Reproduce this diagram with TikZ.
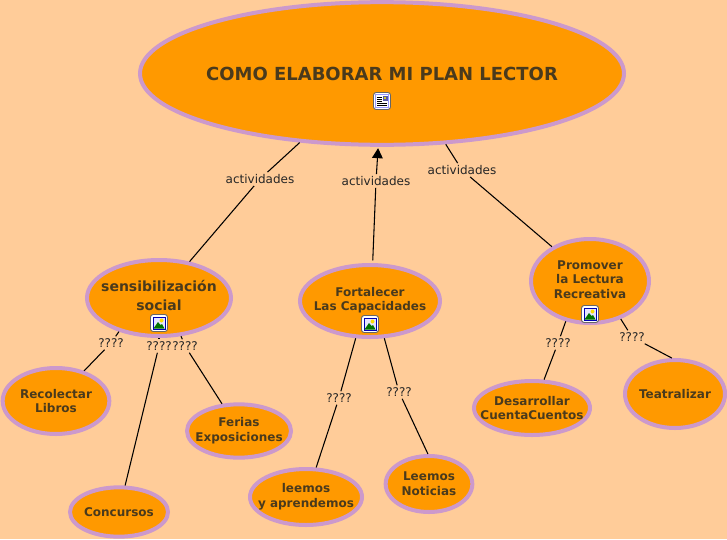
\documentclass[tikz,border=0pt]{standalone}
\usepackage{fontspec}
\setmainfont{DejaVu Sans}
\usetikzlibrary{shapes.geometric,arrows.meta}
\definecolor{fondo}{HTML}{FFCC99}
\definecolor{naranja}{HTML}{FF9900}
\definecolor{lila}{HTML}{CC99CC}
\definecolor{texto}{HTML}{4A3A1C}
\tikzset{
    concepto/.style={ellipse, draw=lila, line width=3pt, fill=naranja, inner sep=-30pt,
        text=texto, align=center, font=\bfseries\fontsize{9}{11}\selectfont},
    enlace/.style={inner sep=1.5pt, font=\fontsize{9}{11}\selectfont, text=black!85},
    linea/.style={line width=0.8pt, black},
    docicon/.pic={
        \draw[line width=0.7pt, draw=black!60, fill=white, rounded corners=2pt] (-8.5,-8.5) rectangle (8.5,8.5);
        \draw[line width=0.7pt, draw=blue!40, fill=white] (-6.5,-6.5) rectangle (6.5,6.5);
        \fill[blue!30!gray] (0.5,-5.5) rectangle (5.5,-0.5);
        \fill[yellow!80!black] (2,-4.5) rectangle (4,-2.5);
        \foreach \y in {-4,-2,0,2,4}
            \draw[line width=0.5pt, black] (-5,\y) -- (\ifnum\y<1 0\else 5\fi,\y);
    },
    imgicon/.pic={
        \draw[line width=0.7pt, draw=black!60, fill=white, rounded corners=2pt] (-8.5,-8.5) rectangle (8.5,8.5);
        \draw[line width=0.7pt, draw=blue!70!black, fill=blue!10] (-6,-6) rectangle (6,6);
        \fill[yellow!80!orange] (2.5,-2.5) circle (1.5pt);
        \fill[green!45!black] (-5.5,5.5) -- (-1,-1) -- (1.5,2) -- (3,1) -- (5.5,5.5) -- cycle;
    },
}
\begin{document}
\begin{tikzpicture}[x=0.75pt, y=-0.75pt]
    % fondo
    \fill[fondo] (0,0) rectangle (727,539);
    \useasboundingbox (0,0) rectangle (727,539);

    % conceptos
    \node[concepto, minimum width=363pt, minimum height=107pt, font=\bfseries\fontsize{13.5}{15}\selectfont] (plan) at (382,73.5) {COMO ELABORAR MI PLAN LECTOR};
    \node[concepto, minimum width=108pt, minimum height=57pt, font=\bfseries\fontsize{10.5}{12.75}\selectfont] (sensi) at (159,298) {\raisebox{0.7pt}{\begin{tabular}{@{}c@{}}sensibilización\\[1.5pt]social\end{tabular}}};
    \node[concepto, minimum width=105pt, minimum height=54pt] (forta) at (370,301) {\raisebox{5pt}{\begin{tabular}{@{}c@{}}Fortalecer\\[-0.5pt]Las Capacidades\end{tabular}}};
    \node[concepto, minimum width=88.5pt, minimum height=63pt] (promo) at (590,281) {\begin{tabular}{@{}c@{}}Promover\\[0pt]la Lectura\\[0pt]Recreativa\end{tabular}};
    \node[concepto, minimum width=80pt, minimum height=49.5pt] (recol) at (56,401) {Recolectar\\Libros};
    \node[concepto, minimum width=73.5pt, minimum height=37pt] (concu) at (119,512) {Concursos};
    \node[concepto, minimum width=78pt, minimum height=40pt] (feria) at (239,431) {Ferias\\Exposiciones};
    \node[concepto, minimum width=84pt, minimum height=42pt] (apren) at (306,497) {leemos\\y aprendemos};
    \node[concepto, minimum width=65pt, minimum height=42pt] (notic) at (429,484) {Leemos\\Noticias};
    \node[concepto, minimum width=87pt, minimum height=40.5pt] (desar) at (532,408) {Desarrollar\\CuentaCuentos};
    \node[concepto, minimum width=75pt, minimum height=51pt] (teatr) at (675,394) {Teatralizar};

    % iconos
    \pic at (382,101) {docicon};
    \pic at (159,323) {imgicon};
    \pic at (370,324) {imgicon};
    \pic at (590,314) {imgicon};

    % etiquetas
    \node[enlace] (act1) at (260,179) {actividades};
    \node[enlace] (act2) at (376,181) {actividades};
    \node[enlace] (act3) at (462,170) {actividades};
    \node[enlace] (preg1) at (111,343) {????};
    \node[enlace] (preg2) at (159,346) {????};
    \node[enlace] (preg3) at (185,346) {????};
    \node[enlace] (preg4) at (339,398) {????};
    \node[enlace] (preg5) at (399,392) {????};
    \node[enlace] (preg6) at (558,343) {????};
    \node[enlace] (preg7) at (632,337) {????};

    % enlaces
    \draw[linea] (plan.220) -- (act1);
    \draw[linea] (act1) -- (sensi.50);
    \draw[linea, -{Triangle[width=8pt,length=7.5pt]}, shorten >=1pt] (act2) -- (plan.267);
    \draw[linea, shorten >=2pt] (act2) -- (forta.86);
    \draw[linea] (plan.312) -- (act3);
    \draw[linea] (act3) -- (promo.138);

    \draw[linea] (sensi.220) -- (preg1);
    \draw[linea] (preg1) -- (recol.47);
    \draw[linea] (sensi.270) -- (preg2);
    \draw[linea] (preg2) -- (concu.77);
    \draw[linea] (sensi.300) -- (preg3);
    \draw[linea] (preg3) -- (feria.122);

    \draw[linea] (forta.249) -- (preg4);
    \draw[linea] (preg4) -- (apren.71);
    \draw[linea] (forta.291) -- (preg5);
    \draw[linea] (preg5) -- (notic.92);

    \draw[linea] (promo.239) -- (preg6);
    \draw[linea] (preg6) -- (desar.67);
    \draw[linea] (promo.309) -- (preg7);
    \draw[linea] (preg7) -- (teatr.95);
\end{tikzpicture}
\end{document}
